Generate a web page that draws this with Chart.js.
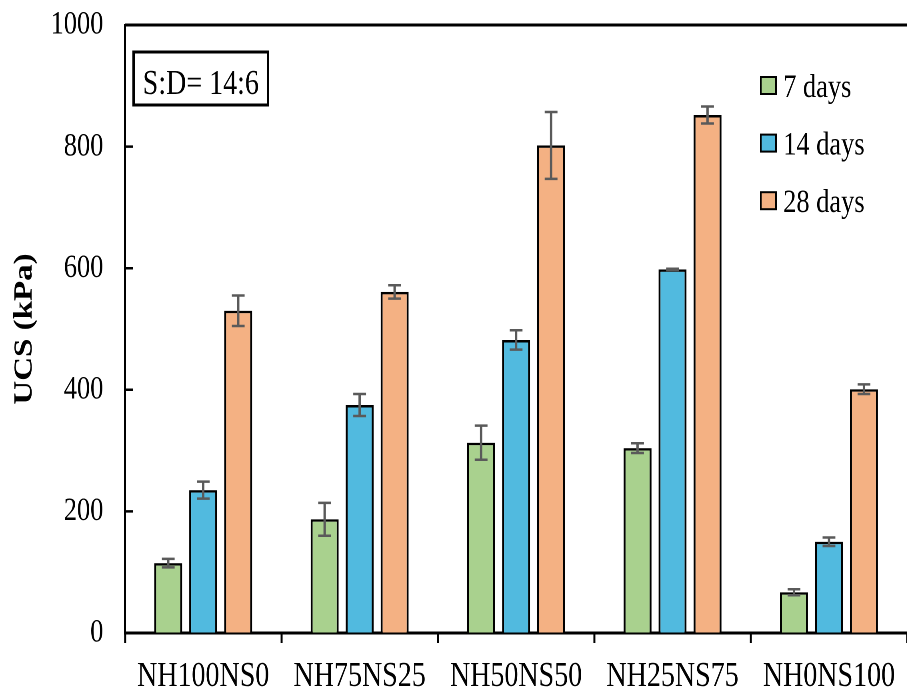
<!DOCTYPE html>
<html>
<head>
<meta charset="utf-8">
<script src="https://cdn.jsdelivr.net/npm/chart.js@4"></script>
<style>
  html, body { margin: 0; padding: 0; background: #fff; overflow: hidden; }
  #wrap { width: 1134px; height: 690px; transform: scaleX(0.8); transform-origin: 0 0; }
</style>
</head>
<body>
<div id="wrap"><canvas id="c" width="1134" height="690"></canvas></div>
<script>
// UCS results per mix, with standard deviation for each curing age
const categories = ['NH100NS0', 'NH75NS25', 'NH50NS50', 'NH25NS75', 'NH0NS100'];
const ucs7 = [115, 187, 313, 304, 67];
const ucs14 = [235, 375, 482, 598, 150];
const ucs28 = [530, 561, 802, 852, 401];
const err7 = [7, 27, 28, 8, 5];
const err14 = [14, 18, 16, 1, 7];
const err28 = [25, 11, 55, 14, 8];
const seriesLabels = ['7 days', '14 days', '28 days'];
const yTicks = [0, 200, 400, 600, 800, 1000];
const ratioLabel = 'S:D= 14:6';

const SERIF = '"Liberation Serif", "Times New Roman", serif';
const colors = ['#A9D18E', '#51BADF', '#F4B183'];
const errors = [err7, err14, err28];

const errorBars = {
  id: 'errorBars',
  afterDatasetsDraw(chart) {
    const ctx = chart.ctx;
    const y = chart.scales.y;
    ctx.save();
    ctx.strokeStyle = '#5a5a5a';
    chart.data.datasets.forEach((ds, i) => {
      const meta = chart.getDatasetMeta(i);
      meta.data.forEach((bar, j) => {
        const v = ds.data[j], e = errors[i][j];
        const top = y.getPixelForValue(v + e);
        const bot = y.getPixelForValue(v - e);
        ctx.lineWidth = 3;
        ctx.beginPath();
        ctx.moveTo(bar.x, top); ctx.lineTo(bar.x, bot);
        ctx.stroke();
        ctx.lineWidth = 2.5;
        ctx.beginPath();
        ctx.moveTo(bar.x - 8, top); ctx.lineTo(bar.x + 8, top);
        ctx.moveTo(bar.x - 8, bot); ctx.lineTo(bar.x + 8, bot);
        ctx.stroke();
      });
    });
    ctx.restore();
  }
};

const frameAndNotes = {
  id: 'frameAndNotes',
  afterDraw(chart) {
    const ctx = chart.ctx;
    const a = chart.chartArea;
    const y = chart.scales.y;
    ctx.save();
    // top frame line
    ctx.strokeStyle = '#000';
    ctx.lineWidth = 3;
    ctx.beginPath();
    ctx.moveTo(a.left, a.top); ctx.lineTo(a.right, a.top);
    ctx.stroke();
    // inward tick marks on the value axis
    ctx.lineWidth = 2.5;
    ctx.beginPath();
    y.ticks.forEach(t => {
      const py = y.getPixelForValue(t.value);
      ctx.moveTo(a.left, py); ctx.lineTo(a.left + 10, py);
    });
    ctx.stroke();

    // ratio box
    ctx.lineWidth = 3;
    ctx.strokeRect(167, 52, 168, 53);
    ctx.fillStyle = '#000';
    ctx.font = '35px ' + SERIF;
    ctx.textAlign = 'center';
    ctx.textBaseline = 'alphabetic';
    ctx.fillText(ratioLabel, 251, 94);

    // legend
    ctx.textAlign = 'left';
    ctx.font = '33px ' + SERIF;
    chart.data.datasets.forEach((ds, i) => {
      const base = 97 + i * 57.6;
      ctx.fillStyle = ds.backgroundColor;
      ctx.fillRect(951, base - 20, 19, 17);
      ctx.lineWidth = 2;
      ctx.strokeStyle = '#000';
      ctx.strokeRect(951, base - 20, 19, 17);
      ctx.fillStyle = '#000';
      ctx.fillText(ds.label, 979, base);
    });
    ctx.restore();
  }
};

const datasets = [ucs7, ucs14, ucs28].map((vals, i) => ({
  label: seriesLabels[i],
  data: vals,
  backgroundColor: colors[i],
  borderColor: '#000',
  borderWidth: 2.5,
  borderSkipped: 'bottom',
  categoryPercentage: 0.671,
  barPercentage: 0.8
}));

new Chart(document.getElementById('c'), {
  type: 'bar',
  data: { labels: categories, datasets },
  options: {
    responsive: false,
    animation: false,
    devicePixelRatio: 2,
    layout: { padding: { top: 25, right: 0, left: 0, bottom: 0 } },
    plugins: { legend: { display: false }, tooltip: { enabled: false } },
    scales: {
      x: {
        grid: { offset: true, drawOnChartArea: false, drawTicks: true, tickLength: 10, tickWidth: 2.5, tickColor: '#000' },
        border: { display: true, color: '#000', width: 3 },
        ticks: { color: '#000', padding: 13, font: { family: SERIF, size: 35 }, maxRotation: 0, autoSkip: false },
        afterFit(s) { s.height = 57; s.paddingLeft = 0; s.paddingRight = 0; }
      },
      y: {
        min: 0, max: 1000,
        afterBuildTicks(s) { s.ticks = yTicks.map(v => ({ value: v })); },
        grid: { drawOnChartArea: false, drawTicks: false },
        border: { display: true, color: '#000', width: 2.5 },
        ticks: { color: '#000', padding: 27, font: { family: SERIF, size: 33 }, callback: v => String(v) },
        title: { display: true, text: 'UCS (kPa)', color: '#000', font: { family: SERIF, size: 33, weight: 'bold' }, padding: { top: 11, bottom: 0 } },
        afterFit(s) { s.width = 156.25; s.paddingTop = 0; s.paddingBottom = 0; }
      }
    }
  },
  plugins: [errorBars, frameAndNotes]
});
</script>
</body>
</html>
